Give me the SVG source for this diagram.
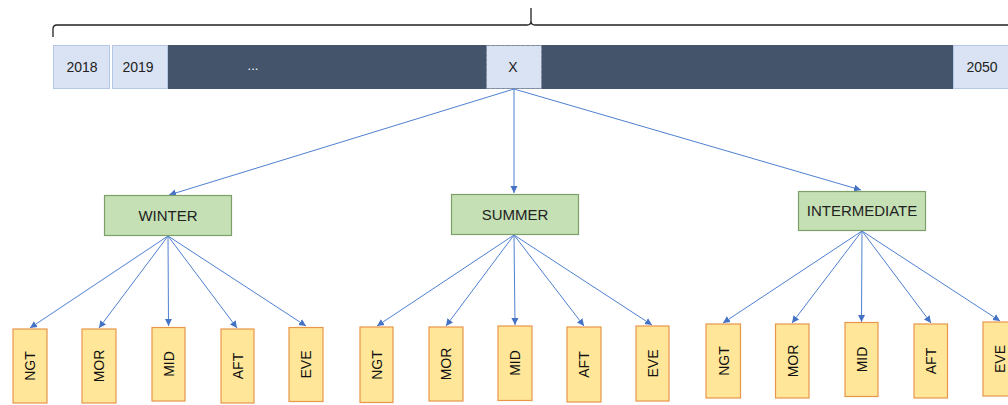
<svg xmlns="http://www.w3.org/2000/svg" width="1008" height="405" viewBox="0 0 1008 405">
<defs>
<marker id="ah" markerWidth="8" markerHeight="8" refX="7" refY="4" orient="auto" markerUnits="userSpaceOnUse">
<path d="M0,0.5 L7,4 L0,7.5 Z" fill="#4472c4"/>
</marker>
</defs>
<style>
.yr{fill:#dae3f3;stroke:#b4c7e7;stroke-width:1}
.dk{fill:#44546a}
.yt{font-family:"Liberation Sans",Arial,sans-serif;font-size:14px;fill:#222;text-anchor:middle}
.season rect{fill:#c5e0b4;stroke:#7f9f6a;stroke-width:1.2}
.st{font-family:"Liberation Sans",Arial,sans-serif;font-size:15px;fill:#222;text-anchor:middle}
.leaf rect{fill:#ffe699;stroke:#e8964a;stroke-width:1.2}
.lt{font-family:"Liberation Sans",Arial,sans-serif;font-size:14px;fill:#111;text-anchor:middle}
.cn line{stroke:#4f80d0;stroke-width:1;marker-end:url(#ah)}
</style>
<g id="brace">
<path d="M53,37 L53,29 Q53,25 57,25 L527,25 Q531,25 531,21 L531,8 M531,21 Q531,25 535,25 L1008,25" fill="none" stroke="#222" stroke-width="1.3"/>
</g>
<g id="timeline">
<rect class="dk" x="168" y="45" width="785" height="44"/>
<g id="y2018"><rect class="yr" x="53.5" y="45.5" width="56" height="43"/><text class="yt" x="82" y="72">2018</text></g>
<g id="y2019"><rect class="yr" x="112.5" y="45.5" width="55" height="43"/><text class="yt" x="138" y="72">2019</text></g>
<text x="253" y="70" font-family="Liberation Sans,Arial,sans-serif" font-size="13" fill="#ffffff" text-anchor="middle">...</text>
<g id="yx"><rect x="486.5" y="45.5" width="55" height="43" fill="#dae3f3" stroke="#7f8aa0" stroke-width="1" stroke-dasharray="3,2"/><text class="yt" x="513" y="72">X</text></g>
<g id="y2050"><rect class="yr" x="953.5" y="45.5" width="60" height="43"/><text class="yt" x="982" y="72">2050</text></g>
</g>
<g id="connectors" class="cn">
<line x1="514" y1="89" x2="169" y2="195"/>
<line x1="514" y1="89" x2="514" y2="193"/>
<line x1="514" y1="89" x2="861" y2="190"/>
<line x1="168" y1="236" x2="30" y2="328"/>
<line x1="168" y1="236" x2="99" y2="328"/>
<line x1="168" y1="236" x2="168.5" y2="326"/>
<line x1="168" y1="236" x2="237" y2="328"/>
<line x1="168" y1="236" x2="306" y2="326"/>
<line x1="514" y1="235" x2="377" y2="326"/>
<line x1="514" y1="235" x2="446" y2="326"/>
<line x1="514" y1="235" x2="515" y2="325"/>
<line x1="514" y1="235" x2="584" y2="326"/>
<line x1="514" y1="235" x2="652" y2="325"/>
<line x1="862" y1="231" x2="723" y2="323"/>
<line x1="862" y1="231" x2="792" y2="323"/>
<line x1="862" y1="231" x2="861.5" y2="322"/>
<line x1="862" y1="231" x2="931" y2="323"/>
<line x1="862" y1="231" x2="1000" y2="321"/>
</g>
<g id="winter" class="season"><rect x="104.5" y="195.5" width="127" height="40"/><text class="st" x="168" y="221">WINTER</text></g>
<g id="summer" class="season"><rect x="451.5" y="194.5" width="127" height="40"/><text class="st" x="515" y="220">SUMMER</text></g>
<g id="intermediate" class="season"><rect x="798.5" y="191.5" width="127" height="39"/><text class="st" x="862" y="216" font-size="13.5">INTERMEDIATE</text></g>
<g id="w-ngt" class="leaf"><rect x="13" y="329" width="34" height="74"/><text class="lt" transform="translate(35,366) rotate(-90)">NGT</text></g>
<g id="w-mor" class="leaf"><rect x="82" y="329" width="34" height="74"/><text class="lt" transform="translate(104,366) rotate(-90)">MOR</text></g>
<g id="w-mid" class="leaf"><rect x="152" y="327.5" width="33" height="73.5"/><text class="lt" transform="translate(173.5,364) rotate(-90)">MID</text></g>
<g id="w-aft" class="leaf"><rect x="221" y="329" width="33" height="74"/><text class="lt" transform="translate(242.5,366) rotate(-90)">AFT</text></g>
<g id="w-eve" class="leaf"><rect x="289" y="327.5" width="34" height="74"/><text class="lt" transform="translate(311,364.5) rotate(-90)">EVE</text></g>
<g id="s-ngt" class="leaf"><rect x="360" y="327" width="33" height="75.5"/><text class="lt" transform="translate(381.5,365) rotate(-90)">NGT</text></g>
<g id="s-mor" class="leaf"><rect x="429" y="327" width="34" height="74"/><text class="lt" transform="translate(451,364) rotate(-90)">MOR</text></g>
<g id="s-mid" class="leaf"><rect x="498" y="326" width="34" height="74.5"/><text class="lt" transform="translate(520,363) rotate(-90)">MID</text></g>
<g id="s-aft" class="leaf"><rect x="567" y="327" width="34" height="75"/><text class="lt" transform="translate(589,364.5) rotate(-90)">AFT</text></g>
<g id="s-eve" class="leaf"><rect x="636" y="326" width="33" height="75"/><text class="lt" transform="translate(657.5,363.5) rotate(-90)">EVE</text></g>
<g id="i-ngt" class="leaf"><rect x="706" y="324" width="34.5" height="74"/><text class="lt" transform="translate(728.5,361) rotate(-90)">NGT</text></g>
<g id="i-mor" class="leaf"><rect x="775.5" y="324" width="33.5" height="74"/><text class="lt" transform="translate(797.5,361) rotate(-90)">MOR</text></g>
<g id="i-mid" class="leaf"><rect x="845" y="322.5" width="33" height="74"/><text class="lt" transform="translate(866.5,359.5) rotate(-90)">MID</text></g>
<g id="i-aft" class="leaf"><rect x="914" y="324" width="33.5" height="74"/><text class="lt" transform="translate(936,361) rotate(-90)">AFT</text></g>
<g id="i-eve" class="leaf"><rect x="983" y="322" width="34" height="74"/><text class="lt" transform="translate(1005,359) rotate(-90)">EVE</text></g>
</svg>
